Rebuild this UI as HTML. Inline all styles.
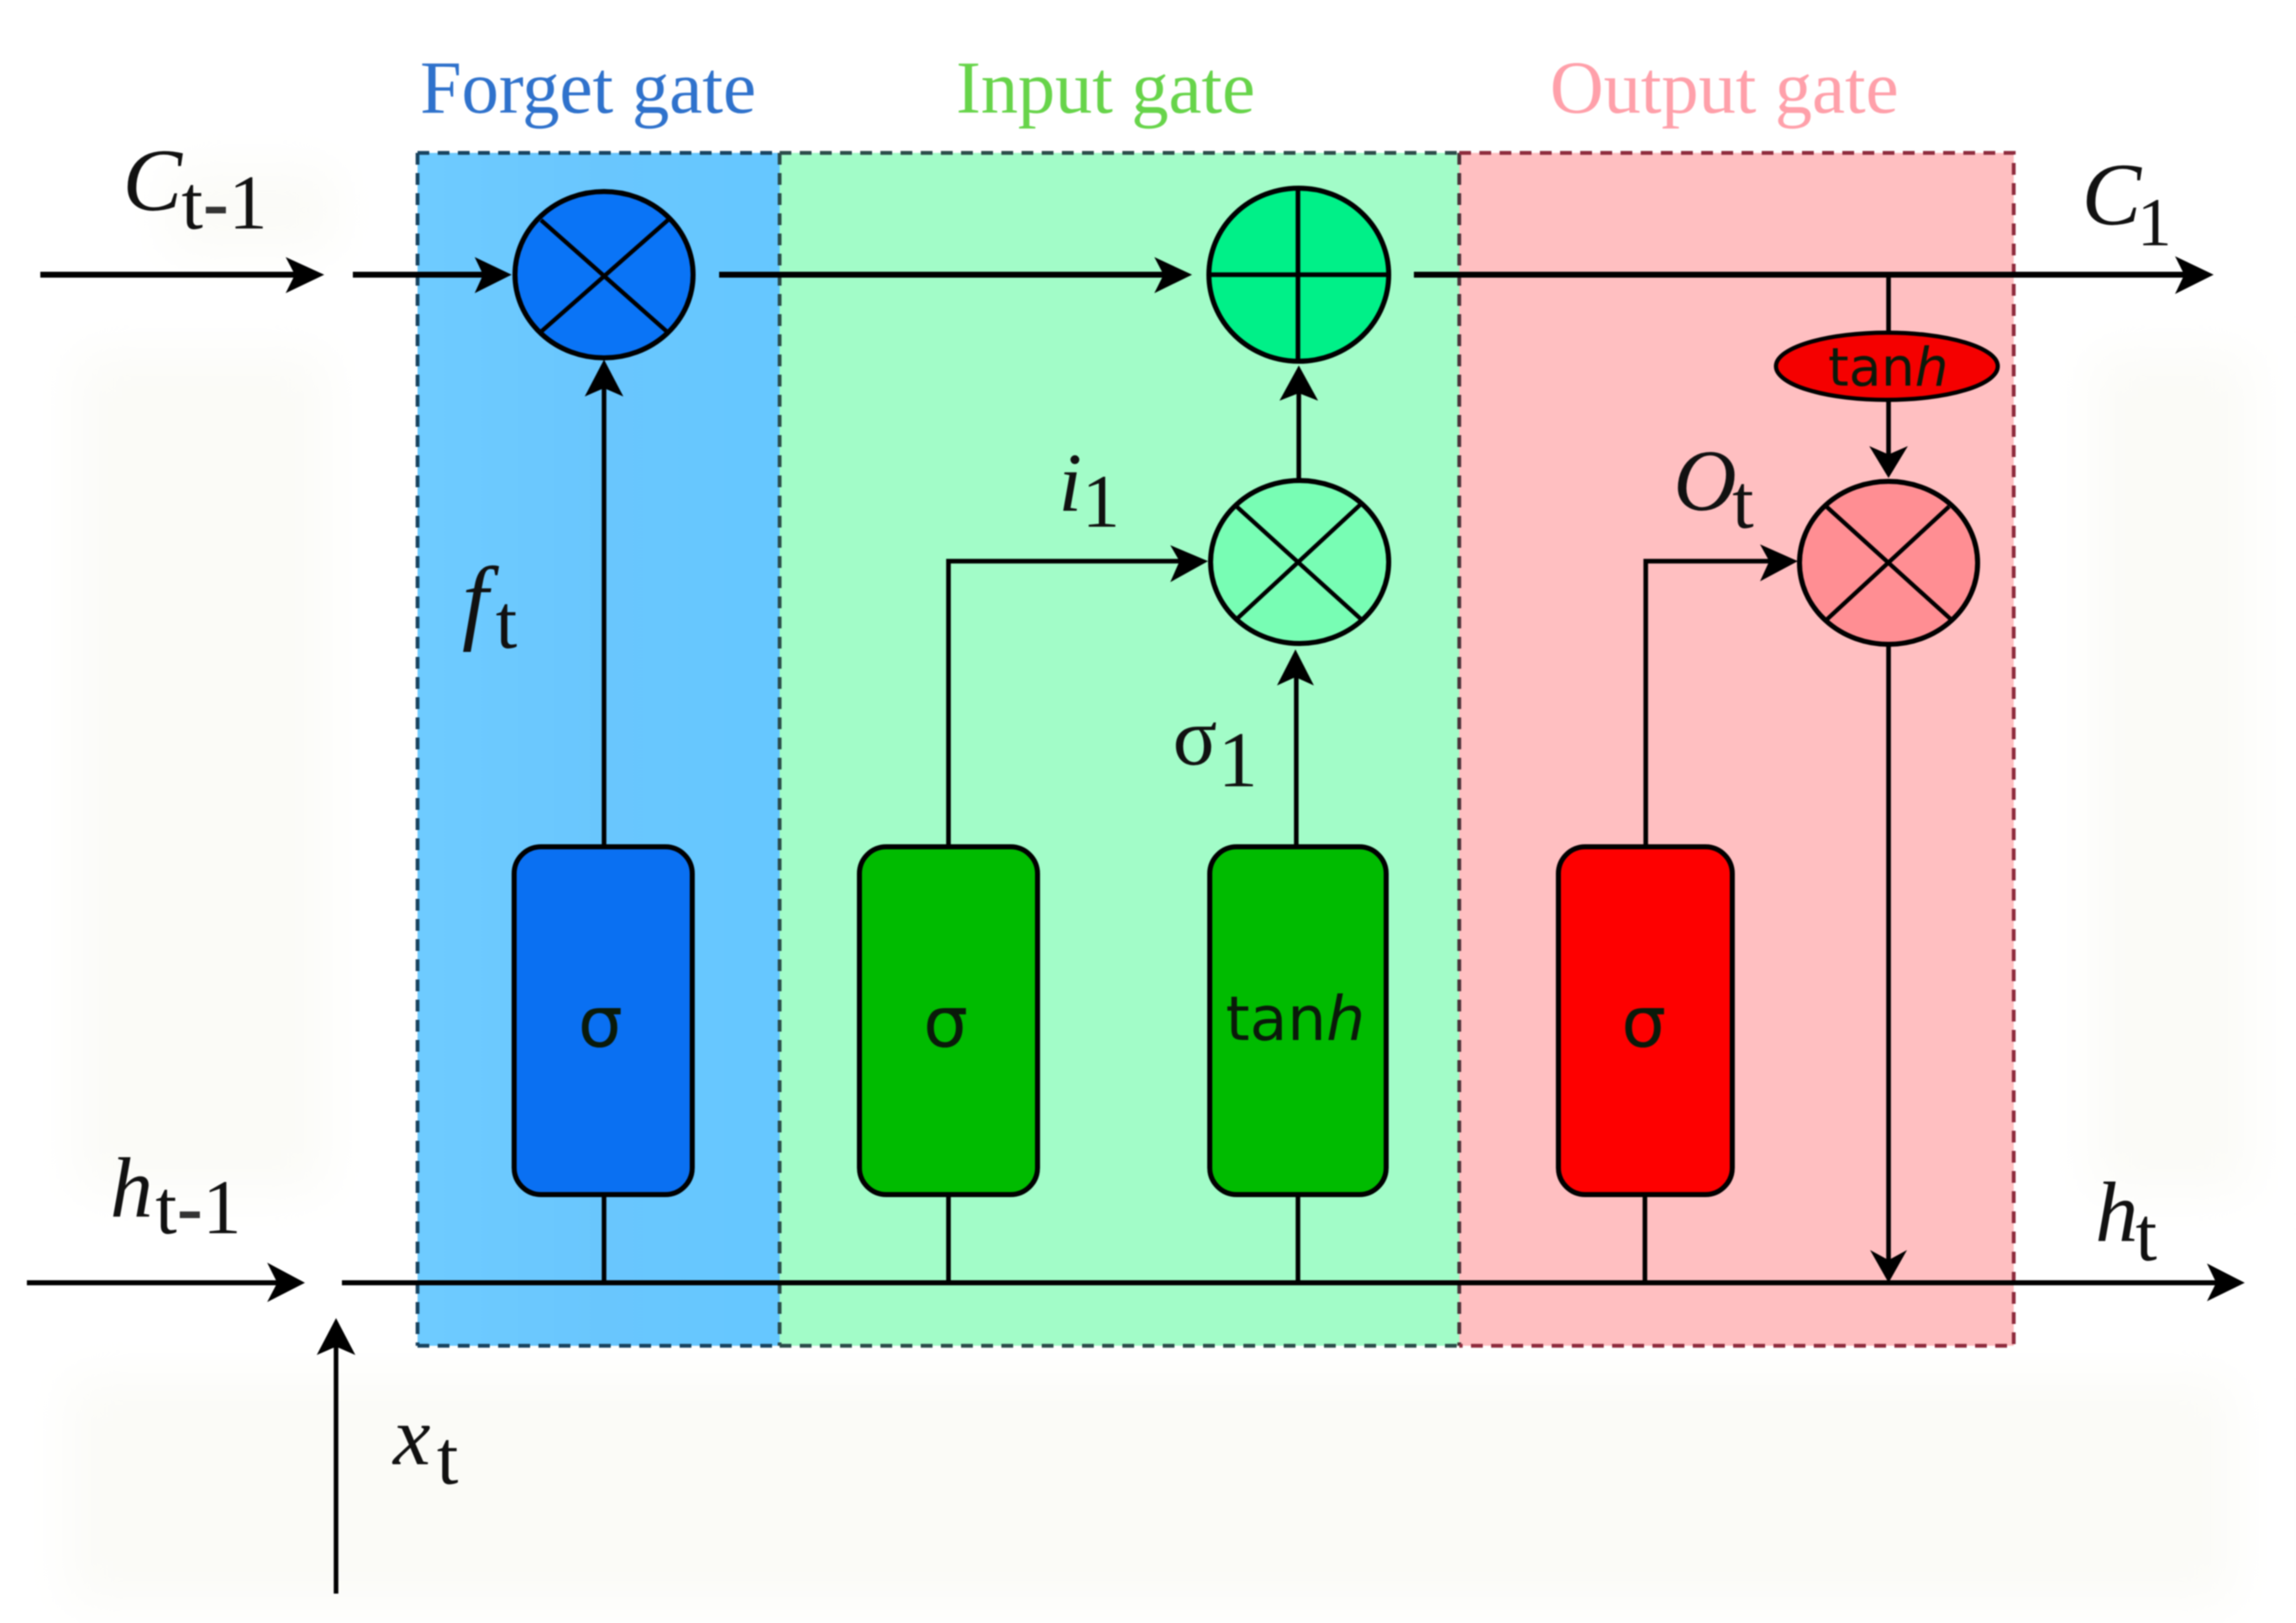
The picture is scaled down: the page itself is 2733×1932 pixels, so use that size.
<!DOCTYPE html>
<html><head><meta charset="utf-8"><title>LSTM cell</title>
<style>html,body{margin:0;padding:0;background:#fff}svg{display:block;filter:blur(.8px)}
.s{font-family:"Liberation Serif",serif;fill:#111}
.i{font-family:"Liberation Serif",serif;font-style:italic;fill:#111}
.d{font-family:"DejaVu Sans",sans-serif;fill:#0a1a0a}
.g{font-family:"Liberation Serif",serif;font-size:89px}
</style></head><body>
<svg xmlns="http://www.w3.org/2000/svg" width="2733" height="1932" viewBox="0 0 2733 1932">
<defs><filter id="b" x="-20%" y="-20%" width="140%" height="140%"><feGaussianBlur stdDeviation="30"/></filter>
<linearGradient id="bl" x1="0" x2="1" y1="0" y2="0"><stop offset="0" stop-color="#6ecbff"/><stop offset=".5" stop-color="#69c6fd"/><stop offset="1" stop-color="#65c7ff"/></linearGradient></defs>
<rect width="2733" height="1932" fill="#fff"/>
<g filter="url(#b)" fill="#fbfbf7">
<rect x="90" y="420" width="300" height="1000"/>
<rect x="200" y="200" width="200" height="100"/>
<rect x="80" y="1640" width="2580" height="270"/>
<rect x="2490" y="420" width="190" height="1000"/>
</g>
<rect x="497" y="182" width="431" height="1420" fill="url(#bl)"/>
<rect x="928" y="182" width="809" height="1420" fill="#a2fcc8"/>
<rect x="1737" y="182" width="660" height="1420" fill="#ffbfc1"/>
<g fill="none" stroke-width="4.5" stroke-dasharray="14 10">
<path d="M497 182H928M497 1602H928M497 182V1602" stroke="#17425f"/>
<path d="M928 182H1737M928 1602H1737M928 182V1602" stroke="#2a4a48"/>
<path d="M1737 182V1602" stroke="#4a3038"/>
<path d="M1737 182H2397V1602H1737" stroke="#8d2a3c"/>
</g>

<g fill="none" stroke="#000" stroke-linecap="butt">
<path stroke-width="7" d="M48 327H365M420 327H590M856 327H1400M1683 327H2615"/>
<path stroke-width="6" d="M32 1527H345M407 1527H2650"/>
<path stroke-width="5.5" d="M719 1008V450M1129 1008V668H1420M1543 1008V795M1546 571V455M1959 1008V668H2120M2248 327V395M2248 477V550M2248 768V1510M719 1421V1527M1129 1421V1527M1545 1421V1527M1958 1421V1527M400 1897V1600"/>
</g>
<g fill="#000">
<polygon points="386,327 340,306 351,327 340,349"/>
<polygon points="609,327 565,306 575,327 565,349"/>
<polygon points="1419,327 1374,306 1385,327 1374,349"/>
<polygon points="2635,327 2589,305 2600,327 2589,350"/>
<polygon points="363,1527 318,1503 330,1527 318,1550"/>
<polygon points="2672,1527 2627,1504 2638,1527 2627,1549"/>
<polygon points="719,428 696,472 719,462 742,472"/>
<polygon points="1546,435 1523,477 1546,468 1569,477"/>
<polygon points="1542,773 1520,816 1542,806 1564,816"/>
<polygon points="1438,668 1393,649 1404,668 1393,693"/>
<polygon points="2140,668 2095,648 2106,668 2095,692"/>
<polygon points="2248,569 2225,531 2248,541 2271,531"/>
<polygon points="2248,1527 2226,1488 2248,1500 2270,1488"/>
<polygon points="400,1569 377,1613 400,1603 423,1613"/>
</g>

<g stroke="#000" stroke-width="6">
<ellipse cx="719" cy="327" rx="106" ry="99" fill="#0a74f6"/>
<path d="M644 262L793 394M795 262L645 394" fill="none" stroke-width="5"/>
<ellipse cx="1546" cy="327" rx="107" ry="103" fill="#00f088"/>
<path d="M1440 327H1652M1545 225V430" fill="none" stroke-width="5.5"/>
<ellipse cx="1547" cy="669" rx="106" ry="97" fill="#78fdb4"/>
<path d="M1472 603L1620 737M1620 600L1472 737" fill="none" stroke-width="5"/>
<ellipse cx="2248" cy="670" rx="106" ry="97" fill="#ff8e93"/>
<path d="M2174 603L2322 737M2320 603L2175 737" fill="none" stroke-width="5"/>
<ellipse cx="2246" cy="436" rx="132" ry="40" fill="#f50000" stroke-width="5"/>
<rect x="612" y="1008" width="212" height="414" rx="32" fill="#0a70f2"/>
<rect x="1023" y="1008" width="212" height="414" rx="32" fill="#00bb00"/>
<rect x="1440" y="1008" width="210" height="414" rx="32" fill="#00bb00"/>
<rect x="1855" y="1008" width="207" height="414" rx="32" fill="#fe0000"/>
</g>

<text class="g" x="500" y="134" fill="#2f72cc" textLength="400" lengthAdjust="spacingAndGlyphs">Forget gate</text>
<text class="g" x="1138" y="134" fill="#67d44a" textLength="356" lengthAdjust="spacingAndGlyphs">Input gate</text>
<text class="g" x="1845" y="134" fill="#ffa0aa" textLength="415" lengthAdjust="spacingAndGlyphs">Output gate</text>

<text class="i" x="146" y="250" font-size="106">C</text>
<text class="s" x="216" y="272" font-size="92">t<tspan font-weight="bold" fill="#333">-</tspan>1</text>
<text class="i" x="2478" y="267" font-size="106">C</text>
<text class="s" x="2544" y="292" font-size="82">1</text>
<text class="i" x="550" y="752" font-size="112">f</text>
<text class="s" x="590" y="771" font-size="92">t</text>
<text class="i" x="1260" y="608" font-size="100">i</text>
<text class="s" x="1288" y="627" font-size="90">1</text>
<text class="s" x="1396" y="910" font-size="98">σ</text>
<text class="s" x="1450" y="936" font-size="94">1</text>
<text class="i" x="1992" y="607" font-size="104">O</text>
<text class="s" x="2062" y="628" font-size="92">t</text>
<text class="i" x="131" y="1448" font-size="102">h</text>
<text class="s" x="185" y="1468" font-size="92">t<tspan font-weight="bold" fill="#333">-</tspan>1</text>
<text class="i" x="2494" y="1477" font-size="102">h</text>
<text class="s" x="2542" y="1500" font-size="92">t</text>
<text class="i" x="468" y="1743" font-size="100">x</text>
<text class="s" x="520" y="1766" font-size="92">t</text>

<text class="d" x="688" y="1246" font-size="84">σ</text>
<text class="d" x="1099" y="1246" font-size="84">σ</text>
<text class="d" x="1930" y="1246" font-size="84">σ</text>
<text class="d" x="1459" y="1238" font-size="73">tan<tspan font-style="italic">h</tspan></text>
<text class="d" x="2176" y="459" font-size="63">tan<tspan font-style="italic">h</tspan></text>
</svg>
</body></html>
